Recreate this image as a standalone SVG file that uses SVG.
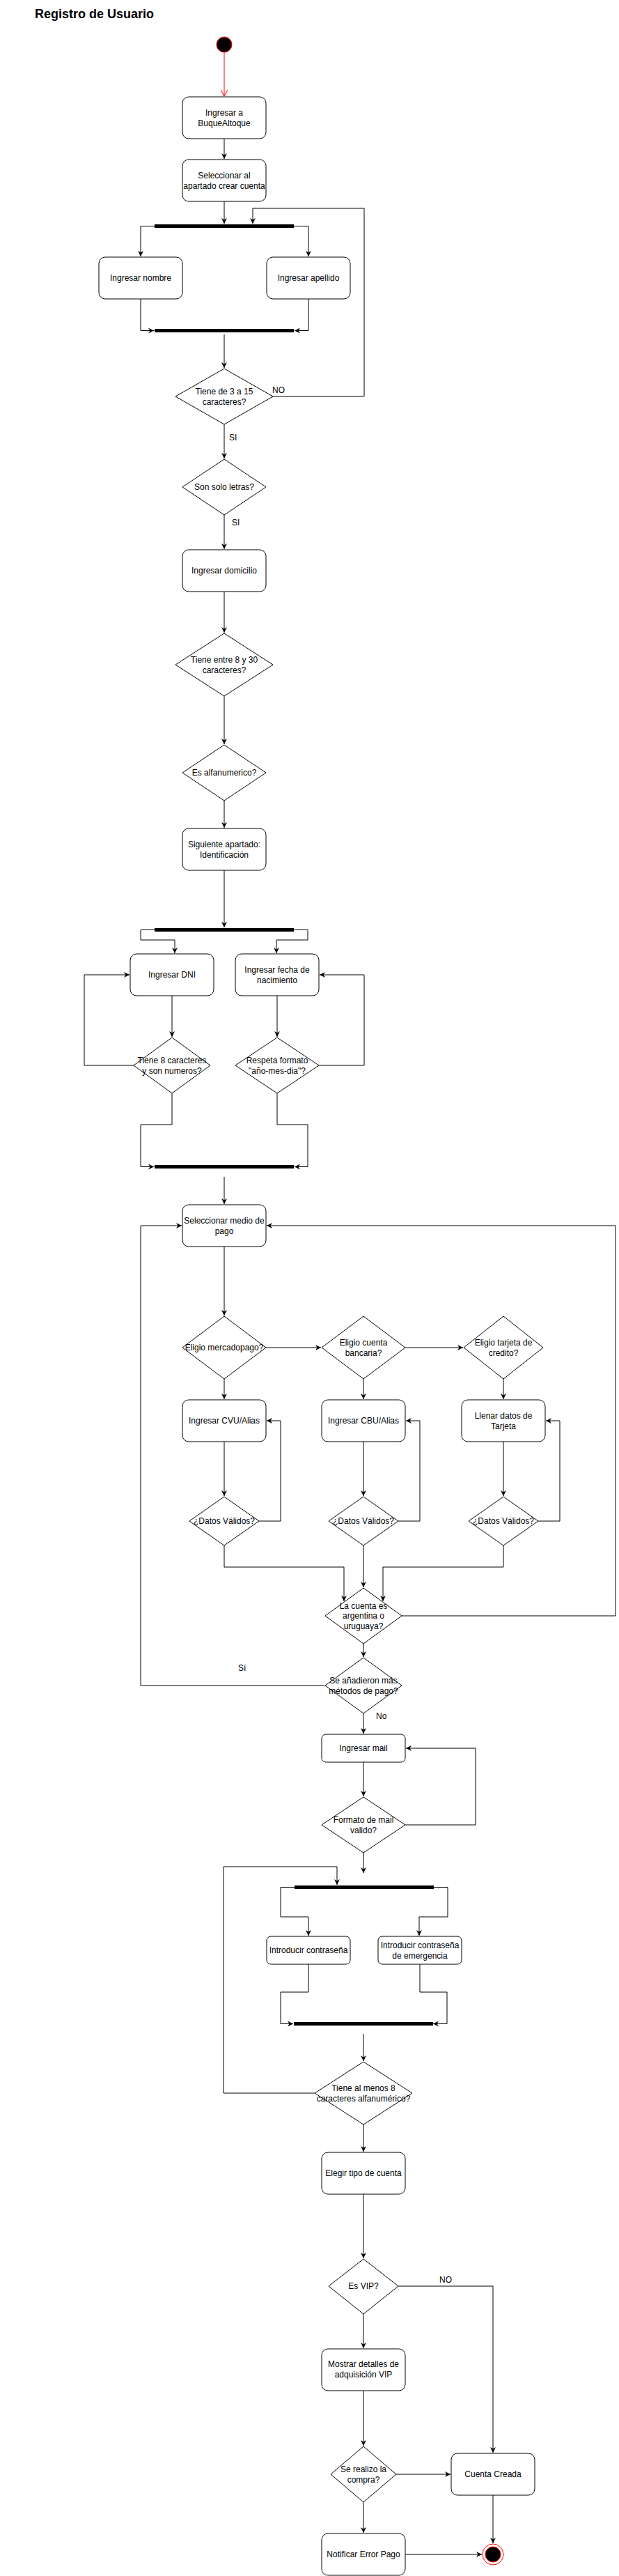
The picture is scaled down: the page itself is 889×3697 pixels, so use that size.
<svg xmlns="http://www.w3.org/2000/svg" width="889" height="3697" viewBox="0 0 889 3697">
<style>
.bg{fill:#fff}
.box{fill:#fff;stroke:#000;stroke-width:1}
.dia{fill:#fff;stroke:#000;stroke-width:1}
.bar{fill:#000}
.t{font-family:"Liberation Sans",Arial,sans-serif;font-size:12px;fill:#000;text-anchor:middle}
.lbl{font-family:"Liberation Sans",Arial,sans-serif;font-size:12px;fill:#000}
.title{font-family:"Liberation Sans",Arial,sans-serif;font-size:18px;font-weight:bold;fill:#000}
.e{fill:none;stroke:#000;stroke-width:1;marker-end:url(#arr)}
.er{fill:none;stroke:#ff0000;stroke-width:1;marker-end:url(#arrRed)}
</style>
<defs>
<marker id="arr" markerUnits="userSpaceOnUse" markerWidth="10" markerHeight="10" refX="8" refY="4" orient="auto">
<path d="M0,0 L8,4 L0,8 L2.5,4 Z" fill="#000"/>
</marker>
<marker id="arrRed" markerUnits="userSpaceOnUse" markerWidth="12" markerHeight="12" refX="9" refY="5" orient="auto">
<path d="M0,0 L9,5 L0,10" fill="none" stroke="#ff0000" stroke-width="1"/>
</marker>
</defs>
<rect class="bg" x="0" y="0" width="889" height="3697"/>
<text class="title" x="50" y="26">Registro de Usuario</text>

<g id="connectors">
<path class="er" d="M322,75 V138"/>
<path class="e" d="M322,199 V228"/>
<path class="e" d="M322,289 V321"/>
<path class="e" d="M392,569 H523 V299 H363 V321"/>
<path class="e" d="M222,324.5 H202 V368"/>
<path class="e" d="M422,324.5 H443 V368"/>
<path class="e" d="M202,429 V474.5 H221"/>
<path class="e" d="M443,429 V474.5 H423"/>
<path class="e" d="M322,480 V528"/>
<path class="e" d="M322,609 V658"/>
<path class="e" d="M322,739 V788"/>
<path class="e" d="M322,849 V908"/>
<path class="e" d="M322,999 V1068"/>
<path class="e" d="M322,1149 V1188"/>
<path class="e" d="M322,1249 V1331"/>
<path class="e" d="M222,1334.5 H202 V1349 H251 V1368"/>
<path class="e" d="M422,1334.5 H442 V1349 H397 V1368"/>
<path class="e" d="M247,1429 V1488"/>
<path class="e" d="M398,1429 V1488"/>
<path class="e" d="M192,1529 H121 V1399 H186"/>
<path class="e" d="M458,1529 H523 V1399 H459"/>
<path class="e" d="M247,1569 V1614 H202 V1674.5 H221"/>
<path class="e" d="M398,1569 V1614 H442 V1674.5 H423"/>
<path class="e" d="M322,1689 V1728"/>
<path class="e" d="M322,1789 V1888"/>
<path class="e" d="M382,1934 H461"/>
<path class="e" d="M582,1934 H665"/>
<path class="e" d="M322,1979 V2008"/>
<path class="e" d="M522,1979 V2008"/>
<path class="e" d="M723,1979 V2008"/>
<path class="e" d="M322,2069 V2147"/>
<path class="e" d="M522,2069 V2147"/>
<path class="e" d="M723,2069 V2147"/>
<path class="e" d="M372,2183 H403 V2039 H383"/>
<path class="e" d="M572,2183 H603 V2039 H583"/>
<path class="e" d="M773,2183 H804 V2039 H784"/>
<path class="e" d="M322,2218 V2249 H494 V2298"/>
<path class="e" d="M522,2218 V2278"/>
<path class="e" d="M723,2218 V2249 H550 V2298"/>
<path class="e" d="M577,2319 H884 V1759 H383"/>
<path class="e" d="M522,2359 V2378"/>
<path class="e" d="M466,2419 H202 V1759 H261"/>
<path class="e" d="M522,2459 V2488"/>
<path class="e" d="M522,2529 V2578"/>
<path class="e" d="M582,2619 H683 V2509 H583"/>
<path class="e" d="M522,2659 V2688"/>
<path class="e" d="M452,3004 H321 V2679 H484 V2705"/>
<path class="e" d="M423,2708.5 H403 V2751 H443 V2778"/>
<path class="e" d="M623,2708.5 H643 V2751 H602 V2778"/>
<path class="e" d="M443,2819 V2859 H403 V2904.5 H421"/>
<path class="e" d="M603,2819 V2859 H642 V2904.5 H622"/>
<path class="e" d="M522,2919 V2958"/>
<path class="e" d="M522,3049 V3088"/>
<path class="e" d="M522,3149 V3241"/>
<path class="e" d="M572,3281 H708 V3520"/>
<path class="e" d="M522,3321 V3370"/>
<path class="e" d="M522,3431 V3510"/>
<path class="e" d="M569,3551 H647"/>
<path class="e" d="M708,3581 V3650"/>
<path class="e" d="M522,3591 V3635"/>
<path class="e" d="M582,3666 H692"/>
</g>

<g id="edge-labels">
<text class="lbl" x="391" y="564">NO</text>
<text class="lbl" x="329" y="632">SI</text>
<text class="lbl" x="333" y="754">SI</text>
<text class="lbl" x="342" y="2398">Sí</text>
<text class="lbl" x="540" y="2467">No</text>
<text class="lbl" x="631" y="3276">NO</text>
</g>

<g id="start"><circle cx="322" cy="64" r="11" fill="#000" stroke="#ff0000" stroke-width="1"/></g>

<g id="n-ingresar"><rect class="box" x="262" y="139" width="120" height="60" rx="9"/><text class="t" x="322" y="166">Ingresar a</text><text class="t" x="322" y="181">BuqueAltoque</text></g>
<g id="n-seleccionar"><rect class="box" x="262" y="229" width="120" height="60" rx="9"/><text class="t" x="322" y="256">Seleccionar al</text><text class="t" x="322" y="271">apartado crear cuenta</text></g>
<g id="bar1"><rect class="bar" x="222" y="322" width="200" height="5"/></g>
<g id="n-nombre"><rect class="box" x="142" y="369" width="120" height="60" rx="9"/><text class="t" x="202" y="403">Ingresar nombre</text></g>
<g id="n-apellido"><rect class="box" x="383" y="369" width="120" height="60" rx="9"/><text class="t" x="443" y="403">Ingresar apellido</text></g>
<g id="bar2"><rect class="bar" x="222" y="472" width="200" height="5"/></g>
<g id="d-3a15"><path class="dia" d="M322,529 L392,569 L322,609 L252,569 Z"/><text class="t" x="322" y="566">Tiene de 3 a 15</text><text class="t" x="322" y="581">caracteres?</text></g>
<g id="d-letras"><path class="dia" d="M322,659 L382,699 L322,739 L262,699 Z"/><text class="t" x="322" y="703">Son solo letras?</text></g>
<g id="n-domicilio"><rect class="box" x="262" y="789" width="120" height="60" rx="9"/><text class="t" x="322" y="823">Ingresar domicilio</text></g>
<g id="d-8a30"><path class="dia" d="M322,909 L392,954 L322,999 L252,954 Z"/><text class="t" x="322" y="951">Tiene entre 8 y 30</text><text class="t" x="322" y="966">caracteres?</text></g>
<g id="d-alfa"><path class="dia" d="M322,1069 L382,1109 L322,1149 L262,1109 Z"/><text class="t" x="322" y="1113">Es alfanumerico?</text></g>
<g id="n-siguiente"><rect class="box" x="262" y="1189" width="120" height="60" rx="9"/><text class="t" x="322" y="1216">Siguiente apartado:</text><text class="t" x="322" y="1231">Identificación</text></g>
<g id="bar3"><rect class="bar" x="222" y="1332" width="200" height="5"/></g>
<g id="n-dni"><rect class="box" x="187" y="1369" width="120" height="60" rx="9"/><text class="t" x="247" y="1403">Ingresar DNI</text></g>
<g id="n-fecha"><rect class="box" x="338" y="1369" width="120" height="60" rx="9"/><text class="t" x="398" y="1396">Ingresar fecha de</text><text class="t" x="398" y="1411">nacimiento</text></g>
<g id="d-dni"><path class="dia" d="M247,1489 L302,1529 L247,1569 L192,1529 Z"/><text class="t" x="247" y="1526">Tiene 8 caracteres</text><text class="t" x="247" y="1541">y son numeros?</text></g>
<g id="d-fecha"><path class="dia" d="M398,1489 L458,1529 L398,1569 L338,1529 Z"/><text class="t" x="398" y="1526">Respeta formato</text><text class="t" x="398" y="1541">"año-mes-dia"?</text></g>
<g id="bar4"><rect class="bar" x="222" y="1672" width="200" height="5"/></g>
<g id="n-medio"><rect class="box" x="262" y="1729" width="120" height="60" rx="9"/><text class="t" x="322" y="1756">Seleccionar medio de</text><text class="t" x="322" y="1771">pago</text></g>
<g id="d-mp"><path class="dia" d="M322,1889 L382,1934 L322,1979 L262,1934 Z"/><text class="t" x="322" y="1938">Eligio mercadopago?</text></g>
<g id="d-banco"><path class="dia" d="M522,1889 L582,1934 L522,1979 L462,1934 Z"/><text class="t" x="522" y="1931">Eligio cuenta</text><text class="t" x="522" y="1946">bancaria?</text></g>
<g id="d-tarjeta"><path class="dia" d="M723,1889 L780,1934 L723,1979 L666,1934 Z"/><text class="t" x="723" y="1931">Eligio tarjeta de</text><text class="t" x="723" y="1946">credito?</text></g>
<g id="n-cvu"><rect class="box" x="262" y="2009" width="120" height="60" rx="9"/><text class="t" x="322" y="2043">Ingresar CVU/Alias</text></g>
<g id="n-cbu"><rect class="box" x="462" y="2009" width="120" height="60" rx="9"/><text class="t" x="522" y="2043">Ingresar CBU/Alias</text></g>
<g id="n-tarjeta"><rect class="box" x="663" y="2009" width="120" height="60" rx="9"/><text class="t" x="723" y="2036">Llenar datos de</text><text class="t" x="723" y="2051">Tarjeta</text></g>
<g id="d-valid1"><path class="dia" d="M322,2148 L372,2183 L322,2218 L272,2183 Z"/><text class="t" x="322" y="2187">¿Datos Válidos?</text></g>
<g id="d-valid2"><path class="dia" d="M522,2148 L572,2183 L522,2218 L472,2183 Z"/><text class="t" x="522" y="2187">¿Datos Válidos?</text></g>
<g id="d-valid3"><path class="dia" d="M723,2148 L773,2183 L723,2218 L673,2183 Z"/><text class="t" x="723" y="2187">¿Datos Válidos?</text></g>
<g id="d-pais"><path class="dia" d="M522,2279 L577,2319 L522,2359 L467,2319 Z"/><text class="t" x="522" y="2309">La cuenta es</text><text class="t" x="522" y="2323">argentina o</text><text class="t" x="522" y="2338">uruguaya?</text></g>
<g id="d-mas"><path class="dia" d="M522,2379 L577,2419 L522,2459 L467,2419 Z"/><text class="t" x="522" y="2416">Se añadieron más</text><text class="t" x="522" y="2431">métodos de pago?</text></g>
<g id="n-mail"><rect class="box" x="462" y="2489" width="120" height="40" rx="6"/><text class="t" x="522" y="2513">Ingresar mail</text></g>
<g id="d-mail"><path class="dia" d="M522,2579 L582,2619 L522,2659 L462,2619 Z"/><text class="t" x="522" y="2616">Formato de mail</text><text class="t" x="522" y="2631">valido?</text></g>
<g id="bar5"><rect class="bar" x="423" y="2706" width="200" height="5"/></g>
<g id="n-pass"><rect class="box" x="383" y="2779" width="120" height="40" rx="6"/><text class="t" x="443" y="2803">Introducir contraseña</text></g>
<g id="n-pass2"><rect class="box" x="543" y="2779" width="120" height="40" rx="6"/><text class="t" x="603" y="2796">Introducir contraseña</text><text class="t" x="603" y="2811">de emergencia</text></g>
<g id="bar6"><rect class="bar" x="422" y="2902" width="200" height="5"/></g>
<g id="d-pass"><path class="dia" d="M522,2959 L592,3004 L522,3049 L452,3004 Z"/><text class="t" x="522" y="3001">Tiene al menos 8</text><text class="t" x="522" y="3016">caracteres alfanumérico?</text></g>
<g id="n-tipo"><rect class="box" x="462" y="3089" width="120" height="60" rx="9"/><text class="t" x="522" y="3123">Elegir tipo de cuenta</text></g>
<g id="d-vip"><path class="dia" d="M522,3242 L572,3281 L522,3321 L472,3281 Z"/><text class="t" x="522" y="3285">Es VIP?</text></g>
<g id="n-vip"><rect class="box" x="462" y="3371" width="120" height="60" rx="9"/><text class="t" x="522" y="3397">Mostrar detalles de</text><text class="t" x="522" y="3412">adquisición VIP</text></g>
<g id="d-compra"><path class="dia" d="M522,3511 L569,3551 L522,3591 L475,3551 Z"/><text class="t" x="522" y="3548">Se realizo la</text><text class="t" x="522" y="3563">compra?</text></g>
<g id="n-creada"><rect class="box" x="648" y="3521" width="120" height="60" rx="9"/><text class="t" x="708" y="3555">Cuenta Creada</text></g>
<g id="n-error"><rect class="box" x="462" y="3636" width="120" height="60" rx="9"/><text class="t" x="522" y="3670">Notificar Error Pago</text></g>
<g id="end"><circle cx="708" cy="3666" r="15" fill="#fff" stroke="#ff0000" stroke-width="1"/><circle cx="708" cy="3666" r="11" fill="#000" stroke="#ff0000" stroke-width="1"/></g>
</svg>
